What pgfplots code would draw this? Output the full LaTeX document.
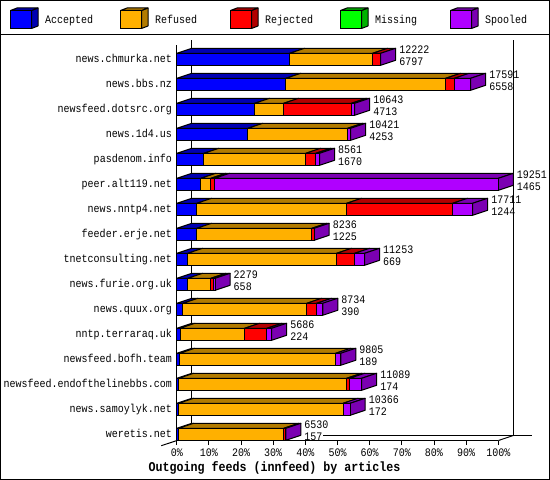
\documentclass[border=0pt]{standalone}
\usepackage{fontspec}
\setmainfont[FakeStretch=0.87]{Liberation Mono}
\usepackage{pgfplots}
\usepackage{pgfplotstable}
\pgfplotsset{compat=1.18}
\definecolor{cA}{HTML}{0000FF}\definecolor{dA}{HTML}{0000B2}
\definecolor{cR}{HTML}{FFB000}\definecolor{dR}{HTML}{B27B00}
\definecolor{cJ}{HTML}{FF0000}\definecolor{dJ}{HTML}{B20000}
\definecolor{cM}{HTML}{00FF00}\definecolor{dM}{HTML}{00B200}
\definecolor{cS}{HTML}{B000FF}\definecolor{dS}{HTML}{7B00B2}
\pgfplotstableread{
k  acc  ref  rej mis spo  tot   num
15 35.1 25.8 2.5 0 0.0    12222 6797
14 33.9 49.7 2.7 0 5.1    17591 6558
13 24.2 9.0  21.1 0 1.0   10643 4713
12 22.1 31.0 0.0 0 1.0    10421 4253
11 8.4  31.7 3.1 0 1.2    8561  1670
10 7.5  3.1  1.2 0 88.2   19251 1465
9  6.2  46.6 33.0 0 6.2   17711 1244
8  6.2  35.8 0.7 0 0.0    8236  1225
7  3.4  46.3 5.6 0 3.1    11253 669
6  3.4  7.2  0.8 0 0.5    2279  658
5  1.9  38.5 3.1 0 1.9    8734  390
4  1.0  20.1 6.9 0 1.5    5686  224
3  0.9  48.5 0.0 0 1.6    9805  189
2  0.6  52.2 1.0 0 3.7    11089 174
1  0.6  51.1 0.0 0 2.2    10366 172
0  0.6  32.7 0.6 0 0.0    6530  157
}\feeds
\newcommand\dxv{4.666}
\newcommand\face[3]{%
  \pgfmathsetmacro\xa{#1+\dxv}\pgfmathsetmacro\xb{#2+\dxv}%
  \ifdim #1pt<#2pt
    \edef\temp{\noexpand\addplot[fill=#3,draw=black,line width=1pt,line join=round] coordinates {(#1,\yt)(#2,\yt)(\xb,\yu)(\xa,\yu)(#1,\yt)};}\temp
  \fi}
\newcommand\getv[2]{\pgfplotstablegetelem{\rowi}{#1}\of\feeds\edef#2{\pgfplotsretval}}
\newcommand\facerow{%
  \getv{k}\kk\getv{acc}\va\getv{ref}\vb\getv{rej}\vc\getv{mis}\vd\getv{spo}\ve\getv{tot}\vt\getv{num}\vn
  \pgfmathsetmacro\yb{\kk-0.24}\pgfmathsetmacro\yt{\kk+0.24}\pgfmathsetmacro\yu{\kk+0.44}%
  \pgfmathsetmacro\ca{\va}\pgfmathsetmacro\cb{\ca+\vb}\pgfmathsetmacro\cc{\cb+\vc}%
  \pgfmathsetmacro\cd{\cc+\vd}\pgfmathsetmacro\ce{\cd+\ve}%
  \face{0}{\ca}{dA}\face{\ca}{\cb}{dR}\face{\cb}{\cc}{dJ}\face{\cc}{\cd}{dM}\face{\cd}{\ce}{dS}%
  \pgfmathsetmacro\xe{\ce+\dxv}\pgfmathsetmacro\xl{\ce+5.75}%
  \pgfmathsetmacro\ytop{\kk+0.372}\pgfmathsetmacro\ybot{\kk-0.09}%
  \pgfmathsetmacro\ysb{\kk-0.04}%
  \edef\temp{\noexpand\addplot[fill=dS,draw=black,line width=1pt,line join=round] coordinates {(\ce,\yb)(\ce,\yt)(\xe,\yu)(\xe,\ysb)(\ce,\yb)};}\temp
  \edef\temp{\noexpand\node[lab] at (axis cs:\xl,\ytop) {\vt};\noexpand\node[lab] at (axis cs:\xl,\ybot) {\vn};}\temp
}
\tikzset{lab/.style={anchor=west,inner sep=0pt,text height=8pt,text depth=0pt}}
\pgfplotsset{common/.style={
  scale only axis,width=321.5pt,height=395.5pt,
  at={(176.8pt,39.45pt)},anchor=south west,
  xmin=0,xmax=100,ymin=-0.25,ymax=15.57,clip=false}}
\newcommand\legitem[4]{% x of box, label, front, dark
  \pgfmathsetmacro\lx{#1}%
  \draw[fill=#4,line width=1pt,line join=round] (\lx pt+21pt,451.5pt)--(\lx pt+27.5pt,454pt)--(\lx pt+27.5pt,472pt)--(\lx pt+21pt,469.5pt)--cycle;
  \draw[fill=#4,line width=1pt,line join=round] (\lx pt,469.5pt)--(\lx pt+6.5pt,472pt)--(\lx pt+27.5pt,472pt)--(\lx pt+21pt,469.5pt)--cycle;
  \draw[fill=#3,line width=1pt] (\lx pt,451.5pt) rectangle (\lx pt+21pt,469.5pt);
  \node[anchor=west,inner sep=0pt,text height=8pt,text depth=2pt] at (\lx pt+34.5pt,459pt) {#2};}
\begin{document}
\fontsize{11.5}{13}\selectfont
\begin{tikzpicture}[x=1pt,y=1pt]
\useasboundingbox (0,0) rectangle (550,480);
\draw[line width=1pt] (0.5,0.5) rectangle (549.5,479.5);
\draw[line width=1pt] (0,445) -- (550,445);
\legitem{10.5}{Accepted}{cA}{dA}
\legitem{120.5}{Refused}{cR}{dR}
\legitem{230.5}{Rejected}{cJ}{dJ}
\legitem{340.5}{Missing}{cM}{dM}
\legitem{450.5}{Spooled}{cS}{dS}
\begin{axis}[common,
  axis x line=bottom,axis y line=left,
  axis line style={-,line width=1pt},
  every tick/.style={black,line width=1pt},
  tick align=outside,
  major tick length=4.5pt,
  ytick={0,...,15},
  yticklabels={weretis.net,news.samoylyk.net,newsfeed.endofthelinebbs.com,newsfeed.bofh.team,nntp.terraraq.uk,news.quux.org,news.furie.org.uk,tnetconsulting.net,feeder.erje.net,news.nntp4.net,peer.alt119.net,pasdenom.info,news.1d4.us,newsfeed.dotsrc.org,news.bbs.nz,news.chmurka.net},
  y tick style={draw=none},
  yticklabel style={inner sep=0pt,xshift=-0.3pt,text height=8pt,text depth=2pt},
  xtick={0,10,...,100},
  xticklabels={0\%,10\%,20\%,30\%,40\%,50\%,60\%,70\%,80\%,90\%,100\%},
  xticklabel style={inner sep=0pt,yshift=-3pt,text height=8pt,text depth=0pt},
  xlabel={Outgoing feeds (innfeed) by articles},
  xlabel style={at={(axis cs:30.4,-1.33)},anchor=center,inner sep=0pt,font=\fontsize{13.4}{14}\selectfont\bfseries},
]
\addplot[black,line width=1pt] coordinates {(4.666,15.77)(4.666,-0.048)};
\addplot[black,line width=1pt] coordinates {(104.666,15.77)(104.666,-0.048)};
\addplot[black,line width=1pt] coordinates {(45.5,-0.048)(110.5,-0.048)};
\addplot[black,line width=1pt] coordinates {(-4.82,-0.456)(0,-0.25)};
\addplot[black,line width=1pt] coordinates {(100,-0.25)(104.666,-0.048)};
\pgfplotsforeachungrouped \rowi in {0,...,15}{\facerow}
\end{axis}
\begin{axis}[common,hide axis,xbar stacked,bar width=12pt,
  every axis plot/.append style={draw=black,line width=1pt}]
\addplot[fill=cA] table[x=acc,y=k] {\feeds};
\addplot[fill=cR] table[x=ref,y=k] {\feeds};
\addplot[fill=cJ] table[x=rej,y=k] {\feeds};
\addplot[fill=cM] table[x=mis,y=k] {\feeds};
\addplot[fill=cS] table[x=spo,y=k] {\feeds};
\end{axis}
\end{tikzpicture}
\end{document}
